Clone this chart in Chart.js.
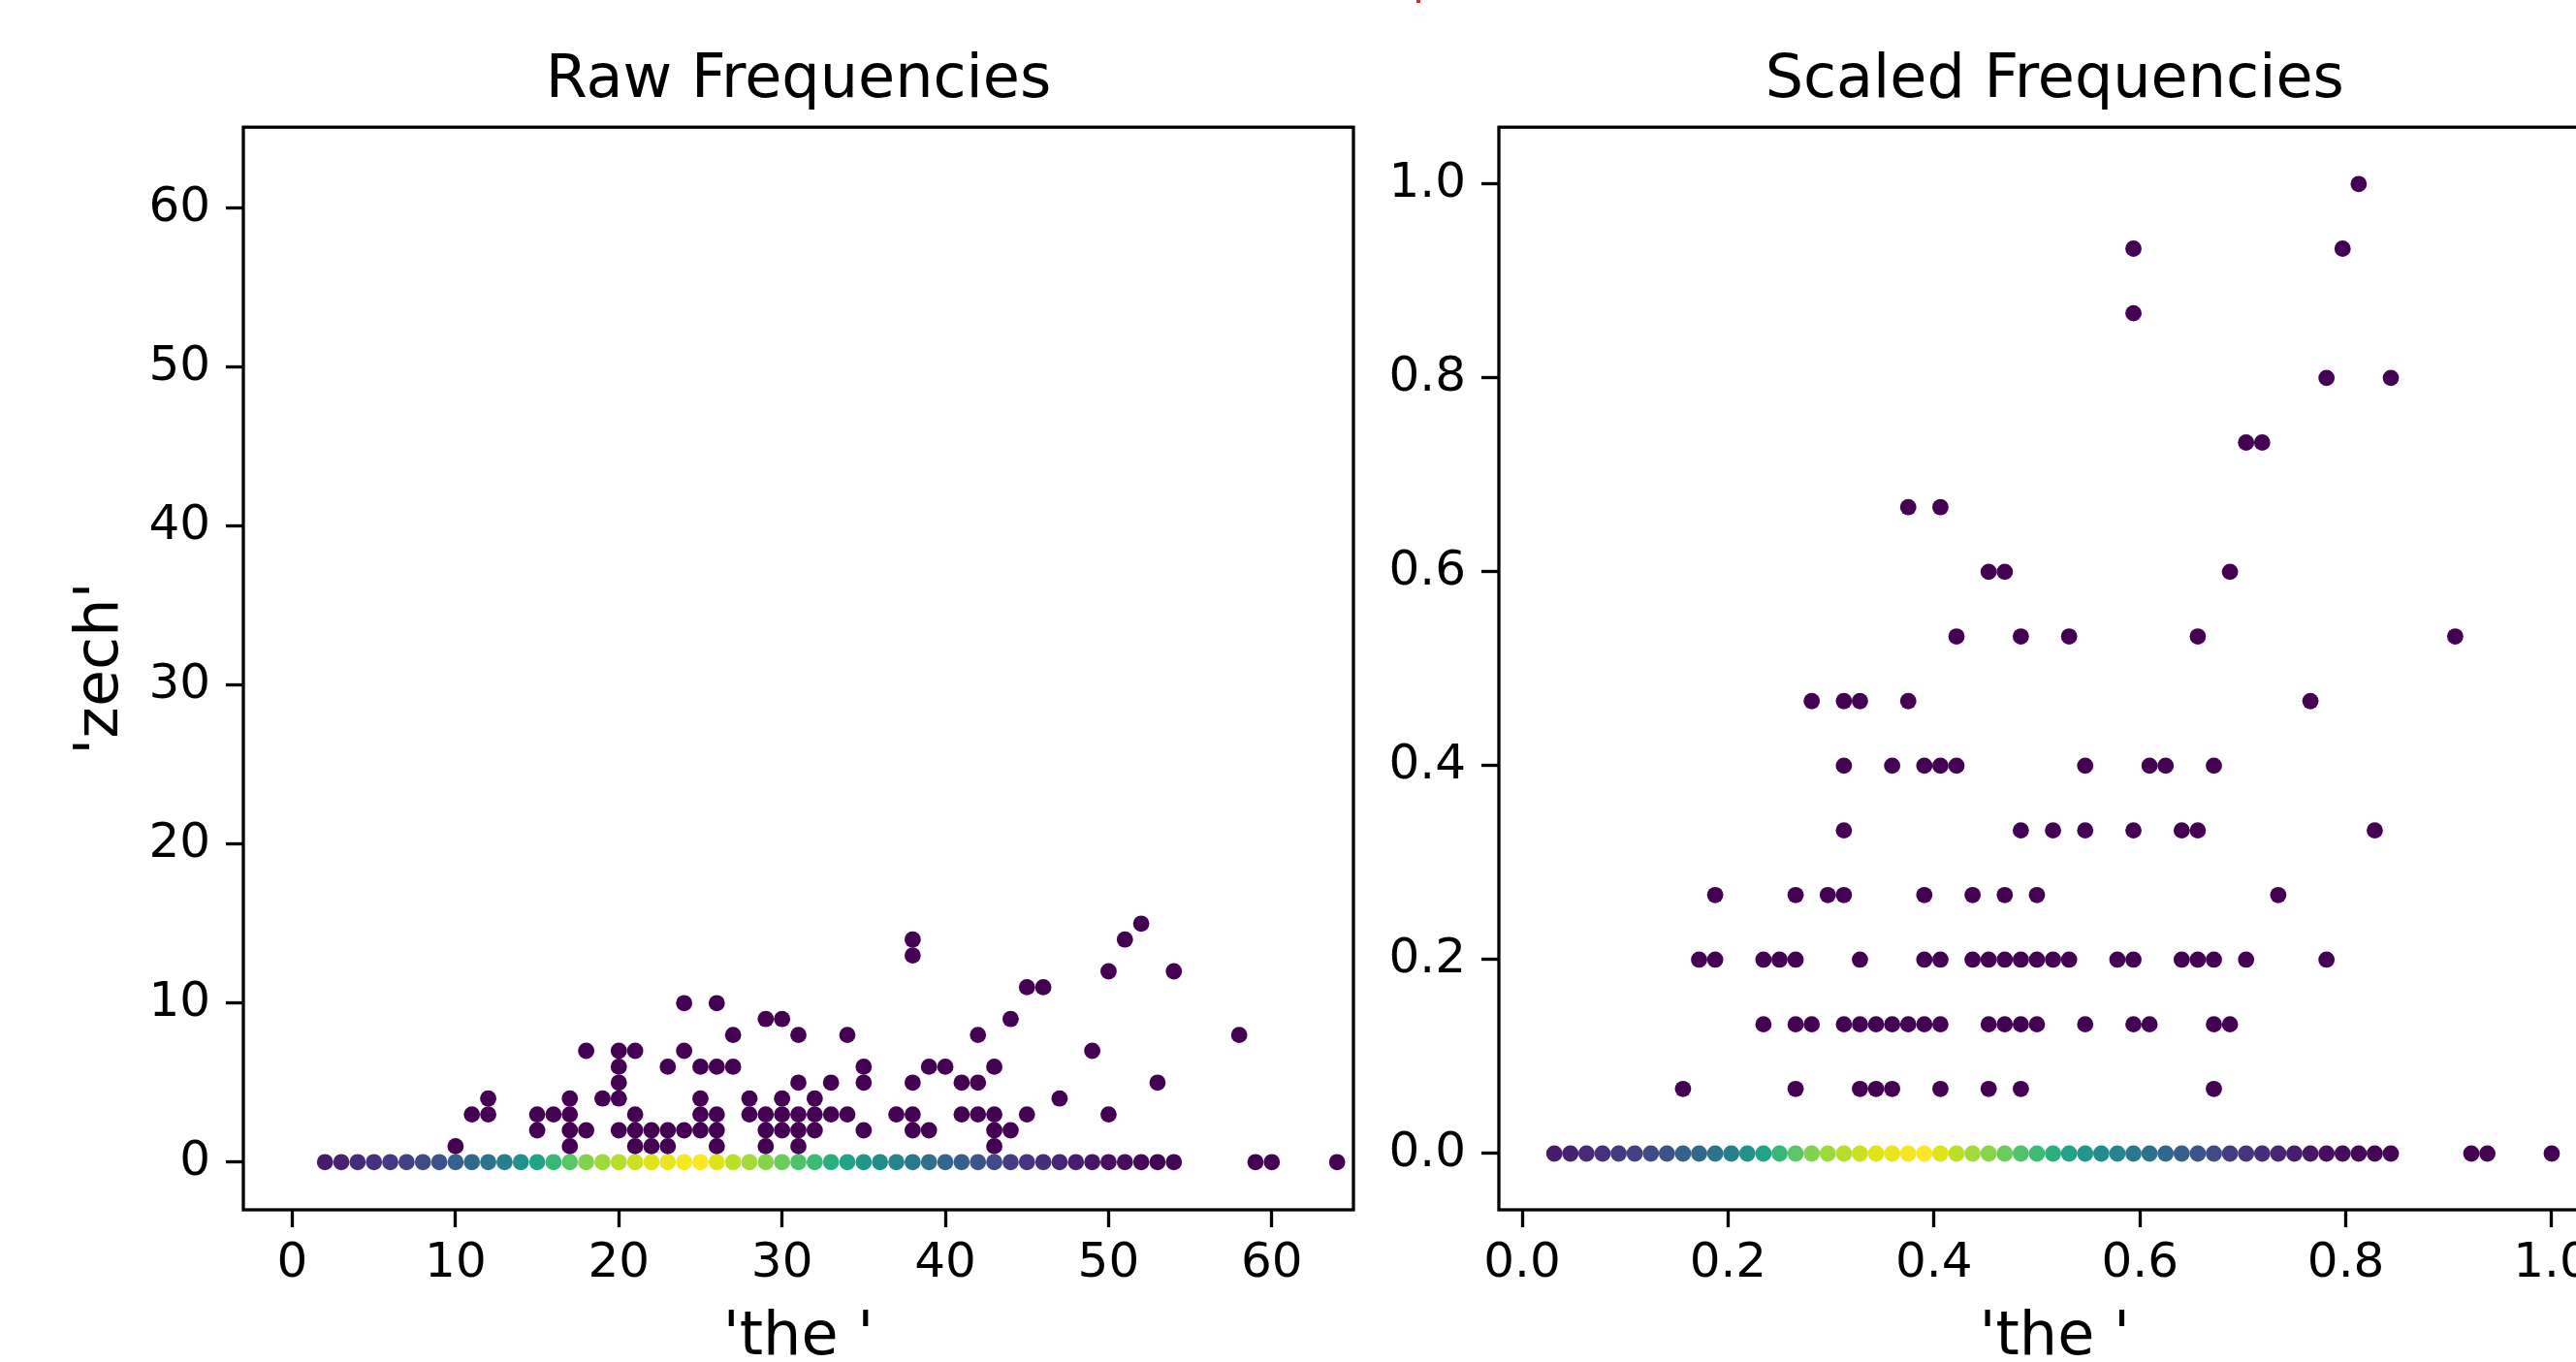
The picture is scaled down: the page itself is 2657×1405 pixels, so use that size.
<!DOCTYPE html>
<html>
<head>
<meta charset="utf-8">
<title>Raw and scaled frequencies</title>
<script src="https://cdn.jsdelivr.net/npm/chart.js@4.4.0/dist/chart.umd.min.js"></script>
<style>
  html, body { margin: 0; padding: 0; background: #fff; }
  body { width: 2657px; height: 1405px; overflow: hidden; position: relative; }
  canvas { position: absolute; top: 0; }
  #raw { left: 0; }
  #scaled { left: 1400px; }
  #mark { position: absolute; left: 1461px; top: 0; width: 4px; height: 3px; background: #c8321e; }
</style>
</head>
<body>
<canvas id="raw" width="1450" height="1420"></canvas>
<canvas id="scaled" width="1350" height="1420"></canvas>
<div id="mark"></div>
<script>
// documents with no 'zech': their 'the ' counts
const zeroZechThe = [
  2, 3, 4, 5, 6, 7, 8, 9, 10, 11, 12, 13, 14, 15, 16, 17, 18, 19, 20, 21,
  22, 23, 24, 25, 26, 27, 28, 29, 30, 31, 32, 33, 34, 35, 36, 37, 38, 39, 40, 41,
  42, 43, 44, 45, 46, 47, 48, 49, 50, 51, 52, 53, 54, 59, 60, 64
];
// colour value of those points (0 = dark purple, 1 = yellow)
const zeroZechDensity = [
  0.07, 0.09, 0.12, 0.14, 0.17, 0.19, 0.22, 0.25, 0.31, 0.34,
  0.38, 0.43, 0.50, 0.58, 0.67, 0.74, 0.81, 0.85, 0.89, 0.92,
  0.95, 0.97, 0.99, 1.00, 0.95, 0.90, 0.86, 0.82, 0.77, 0.72,
  0.68, 0.63, 0.58, 0.53, 0.49, 0.45, 0.40, 0.37, 0.33, 0.30,
  0.26, 0.22, 0.18, 0.15, 0.13, 0.10, 0.08, 0.06, 0.04, 0.03,
  0.02, 0.01, 0.01, 0, 0, 0
];
// documents that do contain 'zech', grouped by the 'zech' count
const zechCounts = [1, 2, 3, 4, 5, 6, 7, 8, 9, 10, 11, 12, 13, 14, 15];
const theByZech = [
  [10, 17, 21, 22, 23, 26, 29, 31, 43],
  [15, 17, 18, 20, 21, 22, 23, 24, 25, 26, 29, 30, 31, 32, 35, 38, 39, 43, 44],
  [11, 12, 15, 16, 17, 21, 25, 26, 28, 29, 30, 31, 32, 33, 34, 37, 38, 41, 42, 43, 45, 50],
  [12, 17, 19, 20, 25, 28, 30, 32, 47],
  [20, 31, 33, 35, 38, 41, 42, 53],
  [20, 23, 25, 26, 27, 35, 39, 40, 43],
  [18, 20, 21, 24, 49],
  [27, 31, 34, 42, 58],
  [29, 30, 44],
  [24, 26],
  [45, 46],
  [50, 54],
  [38],
  [38, 51],
  [52]
];

const rawTicks = [0, 10, 20, 30, 40, 50, 60];
const scaledTicks = [0, 0.2, 0.4, 0.6, 0.8, 1.0];

// viridis, sampled every 0.05
const VIRIDIS = [
  '#440154', '#471365', '#482475', '#463480', '#414487', '#3b528b', '#355f8d',
  '#2f6c8e', '#2a788e', '#25848e', '#21918c', '#1e9c89', '#22a884', '#2fb47c',
  '#44bf70', '#5ec962', '#7ad151', '#9bd93c', '#bddf26', '#dfe318', '#fde725'
];

function hexToRgb(h) {
  return [1, 3, 5].map(i => parseInt(h.slice(i, i + 2), 16));
}

function viridis(t) {
  const p = Math.min(Math.max(t, 0), 1) * (VIRIDIS.length - 1);
  const i = Math.min(Math.floor(p), VIRIDIS.length - 2);
  const f = p - i;
  const a = hexToRgb(VIRIDIS[i]);
  const b = hexToRgb(VIRIDIS[i + 1]);
  const c = a.map((v, k) => Math.round(v + (b[k] - v) * f));
  return `rgb(${c[0]}, ${c[1]}, ${c[2]})`;
}

// the right panel divides each column by its largest value
function buildPoints(scaleX, scaleY) {
  const points = [];
  const colors = [];
  zeroZechThe.forEach((x, i) => {
    points.push({ x: x / scaleX, y: 0 });
    colors.push(viridis(zeroZechDensity[i]));
  });
  zechCounts.forEach((z, i) => {
    theByZech[i].forEach(x => {
      points.push({ x: x / scaleX, y: z / scaleY });
      colors.push(viridis(0));
    });
  });
  return { points, colors };
}

Chart.defaults.font.family = "'DejaVu Sans', sans-serif";
Chart.defaults.color = '#000';

const framePlugin = {
  id: 'frame',
  afterDatasetsDraw(chart) {
    const { ctx, chartArea: a } = chart;
    ctx.save();
    ctx.strokeStyle = '#000';
    ctx.lineWidth = 3.3;
    ctx.strokeRect(a.left, a.top, a.right - a.left, a.bottom - a.top);
    ctx.restore();
  }
};

const tickGrid = {
  display: true,
  drawOnChartArea: false,
  drawTicks: true,
  tickLength: 18,
  tickWidth: 3.3,
  tickColor: '#000'
};

function makeChart(id, cfg) {
  const { points, colors } = buildPoints(cfg.scaleX, cfg.scaleY);
  return new Chart(document.getElementById(id), {
    type: 'scatter',
    data: {
      datasets: [{
        data: points,
        backgroundColor: colors,
        borderWidth: 0,
        pointRadius: 8.4,
        pointHoverRadius: 8.4
      }]
    },
    options: {
      responsive: false,
      animation: false,
      devicePixelRatio: 1,
      events: [],
      layout: { padding: { left: 0, right: cfg.padRight, top: 0, bottom: 0 } },
      plugins: {
        legend: { display: false },
        tooltip: { enabled: false },
        title: {
          display: true,
          text: cfg.title,
          fullSize: false,
          color: '#000',
          font: { size: 62, weight: 'normal', lineHeight: 1.2 },
          padding: { top: 46.5, bottom: 10.3 }
        }
      },
      scales: {
        x: {
          type: 'linear',
          min: cfg.xMin,
          max: cfg.xMax,
          afterBuildTicks: s => { s.ticks = cfg.ticks.map(v => ({ value: v })); },
          afterFit: s => { s.height = 172; },
          grid: tickGrid,
          border: { display: false },
          ticks: {
            autoSkip: false,
            maxRotation: 0,
            padding: 8,
            color: '#000',
            font: { size: 50, lineHeight: 1.2 },
            callback: cfg.format
          },
          title: {
            display: true,
            text: "'the '",
            color: '#000',
            font: { size: 62, weight: 'normal', lineHeight: 1.2 },
            padding: { top: 0, bottom: 2 }
          }
        },
        y: {
          type: 'linear',
          min: cfg.yMin,
          max: cfg.yMax,
          afterBuildTicks: s => { s.ticks = cfg.ticks.map(v => ({ value: v })); },
          afterFit: s => { s.width = cfg.yWidth; },
          grid: tickGrid,
          border: { display: false },
          ticks: {
            autoSkip: false,
            padding: 16,
            color: '#000',
            font: { size: 50, lineHeight: 1.2 },
            callback: cfg.format
          },
          title: {
            display: cfg.yTitle !== '',
            text: cfg.yTitle,
            color: '#000',
            font: { size: 62, weight: 'normal', lineHeight: 1.2 },
            padding: { top: 68, bottom: 0 }
          }
        }
      }
    },
    plugins: [framePlugin]
  });
}

makeChart('raw', {
  title: 'Raw Frequencies',
  yTitle: "'zech'",
  scaleX: 1,
  scaleY: 1,
  xMin: -3, xMax: 65,
  yMin: -3, yMax: 65.1,
  ticks: rawTicks,
  format: v => String(v),
  yWidth: 251,
  padRight: 54
});

makeChart('scaled', {
  title: 'Scaled Frequencies',
  yTitle: '',
  scaleX: Math.max(...zeroZechThe, ...theByZech.flat()),
  scaleY: Math.max(...zechCounts),
  xMin: -0.0226, xMax: 1.057,
  yMin: -0.058, yMax: 1.0586,
  ticks: scaledTicks,
  format: v => v.toFixed(1),
  yWidth: 146,
  padRight: 57.5
});
</script>
</body>
</html>
